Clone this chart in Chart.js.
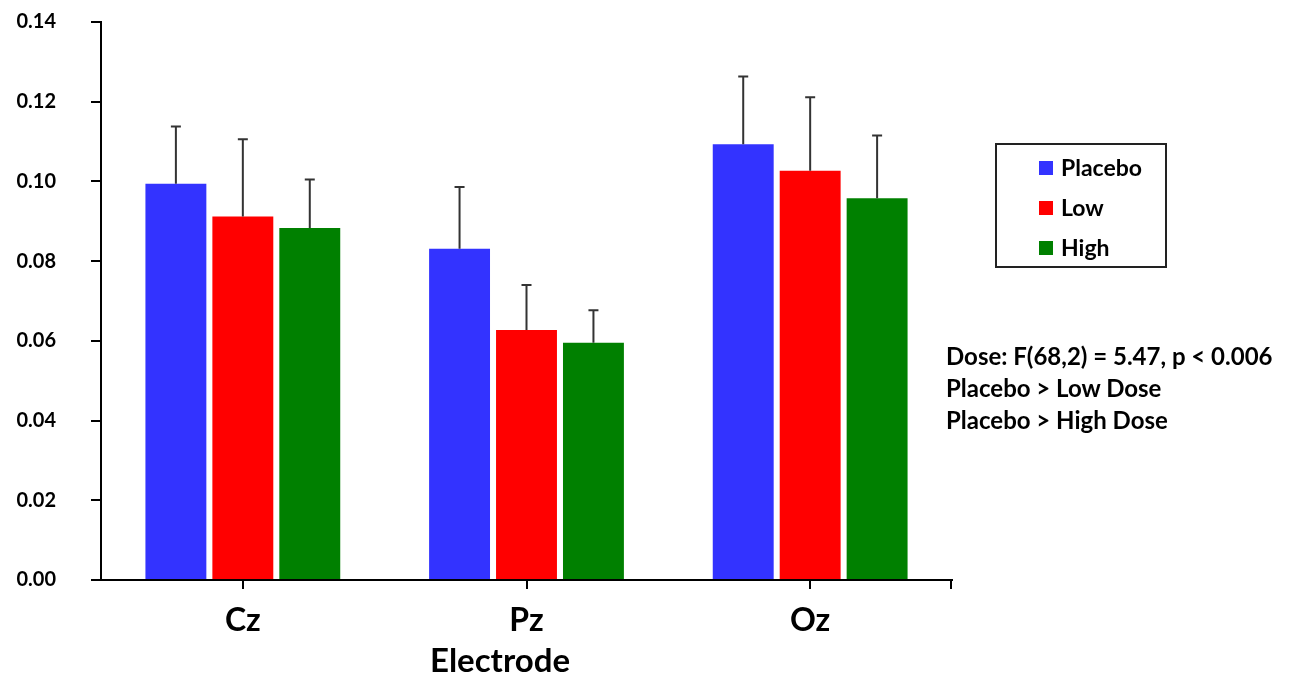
<!DOCTYPE html>
<html lang="en">
<head>
<meta charset="UTF-8">
<title>Electrode by dose</title>
<script src="https://cdn.jsdelivr.net/npm/chart.js/dist/chart.umd.min.js"></script>
<style>
body { margin: 0; background: #fff; font-family: Lato, "Open Sans", sans-serif; }
#wrap { position: relative; width: 1296px; height: 677px; }
#legendBox {
    position: absolute; left: 995px; top: 143px; width: 168px; height: 121px;
    border: 2px solid #222; box-sizing: content-box;
}
#legendBox .item { position: absolute; left: 42px; font-weight: bold; font-size: 23px; color: #000; line-height: 26px; }
#legendBox .sw { display: inline-block; width: 14px; height: 14px; margin-right: 8px; vertical-align: 1px; }
#stats { position: absolute; left: 946px; top: 340px; font-weight: bold; font-size: 24px; line-height: 32px; color: #000; }
</style>
</head>
<body>
<div id="wrap">
    <canvas id="myChart" width="1296" height="677"></canvas>
    <div id="legendBox"></div>
    <div id="stats">
        Dose: F(68,2) = 5.47, p &lt; 0.006<br>
        Placebo &gt; Low Dose<br>
        Placebo &gt; High Dose
    </div>
</div>

<script>
// data
const electrodes = ['Cz', 'Pz', 'Oz'];
const doseNames = ['Placebo', 'Low', 'High'];
const doseColors = ['#3333ff', '#ff0000', '#008000'];

const placebo = [0.0994, 0.0831, 0.1093];
const low = [0.0912, 0.0627, 0.1027];
const high = [0.0883, 0.0595, 0.0958];

// top of the error whisker (mean + error)
const placeboErr = [0.1138, 0.0986, 0.1263];
const lowErr = [0.1106, 0.0740, 0.1211];
const highErr = [0.1005, 0.0677, 0.1115];

const yTicks = [0, 0.02, 0.04, 0.06, 0.08, 0.10, 0.12, 0.14];

const seriesValues = [placebo, low, high];
const seriesErr = [placeboErr, lowErr, highErr];

// legend (html)
const legendBox = document.getElementById('legendBox');
doseNames.forEach((name, i) => {
    const d = document.createElement('div');
    d.className = 'item';
    d.style.top = (9 + i * 40) + 'px';
    d.innerHTML = '<span class="sw" style="background:' + doseColors[i] + '"></span>' + name;
    legendBox.appendChild(d);
});

// error bars + extra axis bits
const errorBars = {
    id: 'errorBars',
    afterDatasetsDraw(chart) {
        const ctx = chart.ctx;
        const y = chart.scales.y;
        ctx.save();
        ctx.strokeStyle = '#333';
        ctx.lineWidth = 2;
        chart.data.datasets.forEach((ds, di) => {
            const meta = chart.getDatasetMeta(di);
            meta.data.forEach((bar, i) => {
                const top = y.getPixelForValue(seriesErr[di][i]);
                ctx.beginPath();
                ctx.moveTo(bar.x, bar.y);
                ctx.lineTo(bar.x, top);
                ctx.moveTo(bar.x - 5, top);
                ctx.lineTo(bar.x + 5, top);
                ctx.stroke();
            });
        });
        ctx.restore();
    },
    afterDraw(chart) {
        const ctx = chart.ctx;
        const a = chart.chartArea;
        ctx.save();
        // tick at the right end of the x axis
        ctx.strokeStyle = '#000';
        ctx.lineWidth = 2;
        ctx.beginPath();
        ctx.moveTo(a.right - 1, a.bottom);
        ctx.lineTo(a.right - 1, a.bottom + 9);
        ctx.stroke();
        // axis title
        ctx.fillStyle = '#000';
        ctx.font = 'bold 33px Lato, "Open Sans", sans-serif';
        ctx.textAlign = 'center';
        ctx.textBaseline = 'middle';
        ctx.fillText('Electrode', 500, 661);
        ctx.restore();
    }
};

const ctx = document.getElementById('myChart').getContext('2d');
const myChart = new Chart(ctx, {
    type: 'bar',
    data: {
        labels: electrodes,
        datasets: doseNames.map((name, i) => ({
            label: name,
            data: seriesValues[i],
            backgroundColor: doseColors[i],
            borderWidth: 0,
            categoryPercentage: 0.708,
            barPercentage: 0.91
        }))
    },
    options: {
        responsive: false,
        animation: false,
        layout: { padding: { left: 0, top: 22, right: 344, bottom: 0 } },
        plugins: {
            legend: { display: false },
            tooltip: { enabled: false }
        },
        scales: {
            x: {
                offset: true,
                grid: { display: true, drawOnChartArea: false, offset: false, color: '#000', lineWidth: 2, tickLength: 9 },
                border: { color: '#000', width: 2 },
                ticks: { color: '#000', font: { family: 'Lato', size: 32, weight: 'bold' }, padding: 12 },
                afterFit(scale) { scale.height = 97; scale.paddingLeft = 0; scale.paddingRight = 0; }
            },
            y: {
                min: 0,
                max: 0.14,
                afterBuildTicks(scale) { scale.ticks = yTicks.map(v => ({ value: v })); },
                grid: { display: true, drawOnChartArea: false, color: '#000', lineWidth: 2, tickLength: 10 },
                border: { color: '#000', width: 2 },
                ticks: {
                    color: '#000',
                    font: { family: 'Lato', size: 20, weight: 'bold' },
                    padding: 35,
                    callback: v => Number(v).toFixed(2)
                },
                afterFit(scale) { scale.width = 101; scale.paddingTop = 0; scale.paddingBottom = 0; }
            }
        }
    },
    plugins: [errorBars]
});
</script>
</body>
</html>
